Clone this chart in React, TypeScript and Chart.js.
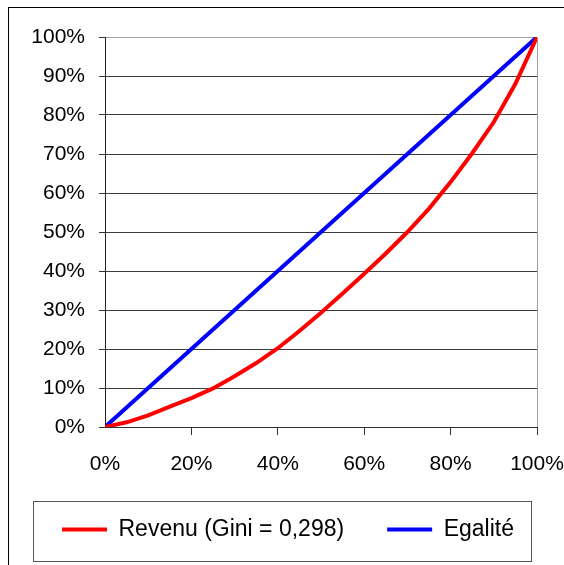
import React, { useEffect, useRef } from "react";
import { Chart, registerables } from "chart.js";

Chart.register(...registerables);

// Cumulative share of population (%)
const populationShare = [0, 5, 10, 15, 20, 25, 30, 35, 40, 45, 50, 55, 60, 65, 70, 75, 80, 85, 90, 95, 100];
// Cumulative share of revenue (%)
const revenuShare = [0, 1.2, 3, 5.2, 7.4, 9.9, 13, 16.4, 20.2, 24.6, 29.3, 34.2, 39.3, 44.5, 50, 56, 62.8, 70.2, 78.2, 88, 100];
// Equality line
const egaliteX = [0, 10, 20, 30, 40, 50, 60, 70, 80, 90, 100];
const egaliteY = [0, 10, 20, 30, 40, 50, 60, 70, 80, 90, 100];

const seriesLabels = ["Revenu (Gini = 0,298)", "Egalité"];
const seriesColors = ["#FF0000", "#0000FF"];

const FONT = "'Liberation Sans', Arial, sans-serif";
const LEGEND_PAD = 43;

// Keep both legend items on one row, and draw the legend frame
const legendFrame = {
  id: "legendFrame",
  afterInit(chart: any) {
    const lg = chart.legend;
    if (!lg || lg.__patched) return;
    const origFit = lg.fit.bind(lg);
    lg.fit = function () {
      const mw = this.maxWidth;
      this.maxWidth = mw + 300;
      origFit();
      this.maxWidth = mw;
      this.width = mw;
    };
    const origDraw = lg.draw.bind(lg);
    lg.draw = function () {
      const r = this.right;
      this.right = r + 300;
      origDraw();
      this.right = r;
    };
    lg.__patched = true;
  },
  afterDraw(chart: any) {
    const lg = chart.legend;
    if (!lg) return;
    const ctx = chart.ctx;
    const top = lg.top + LEGEND_PAD - 17;
    ctx.save();
    ctx.strokeStyle = "#555555";
    ctx.lineWidth = 1;
    ctx.strokeRect(Math.round(lg.left + 14) + 0.5, Math.round(top) + 0.5, 498, 60);
    ctx.restore();
  },
};

export default function App() {
  const canvasRef = useRef<HTMLCanvasElement | null>(null);

  useEffect(() => {
    document.body.style.overflow = "hidden";
    const canvas = canvasRef.current;
    if (!canvas) return;
    const chart = new Chart(canvas, {
      type: "line",
      data: {
        datasets: [
          {
            label: seriesLabels[0],
            data: populationShare.map((x, i) => ({ x, y: revenuShare[i] })),
            borderColor: seriesColors[0],
            backgroundColor: seriesColors[0],
            borderWidth: 4,
            pointRadius: 0,
            tension: 0,
          },
          {
            label: seriesLabels[1],
            data: egaliteX.map((x, i) => ({ x, y: egaliteY[i] })),
            borderColor: seriesColors[1],
            backgroundColor: seriesColors[1],
            borderWidth: 4,
            pointRadius: 0,
            tension: 0,
          },
        ],
      },
      options: {
        animation: false,
        responsive: false,
        devicePixelRatio: 1,
        layout: { padding: { left: 19, right: 27, top: 37, bottom: 14 } },
        plugins: {
          tooltip: { enabled: false },
          legend: {
            position: "bottom",
            align: "start",
            labels: {
              usePointStyle: true,
              pointStyle: "line",
              pointStyleWidth: 45,
              padding: LEGEND_PAD,
              color: "#000",
              font: { family: FONT, size: 23 },
            },
          },
        },
        scales: {
          x: {
            type: "linear",
            min: 0,
            max: 100,
            afterFit: (s: any) => {
              s.height = 48;
            },
            ticks: {
              stepSize: 20,
              padding: 0,
              color: "#000",
              font: { family: FONT, size: 21, lineHeight: 2.82 },
              callback: (v: any) => v + "%",
              maxRotation: 0,
            },
            grid: {
              drawOnChartArea: true,
              tickLength: 8,
              color: (c: any) => (c.tick && c.tick.value === 100 ? "#a0a0a0" : "rgba(0,0,0,0)"),
              tickColor: (c: any) => (c.tick && c.tick.value === 0 ? "rgba(0,0,0,0)" : "#333333"),
            },
            border: { color: "#333333", width: 1 },
          },
          y: {
            min: 0,
            max: 100,
            afterFit: (s: any) => {
              s.width = 86;
            },
            ticks: {
              stepSize: 10,
              padding: 14,
              color: "#000",
              font: { family: FONT, size: 21 },
              callback: (v: any) => v + "%",
            },
            grid: {
              tickLength: 6,
              color: (c: any) => (c.tick && c.tick.value === 100 ? "#a0a0a0" : "#3c3c3c"),
              tickColor: "#333333",
            },
            border: { color: "#222222", width: 1 },
          },
        },
      },
      plugins: [legendFrame],
    });
    return () => chart.destroy();
  }, []);

  return (
    <div>
      <div
        style={{
          position: "absolute",
          left: 8,
          top: 7,
          width: 556,
          height: 558,
          borderLeft: "1px solid #000",
          borderTop: "1px solid #000",
          boxSizing: "border-box",
        }}
      />
      <div style={{ position: "absolute", left: 0, top: 0, width: 564, height: 565 }}>
        <canvas ref={canvasRef} width={564} height={565} style={{ width: 564, height: 565, display: "block" }} />
      </div>
    </div>
  );
}
